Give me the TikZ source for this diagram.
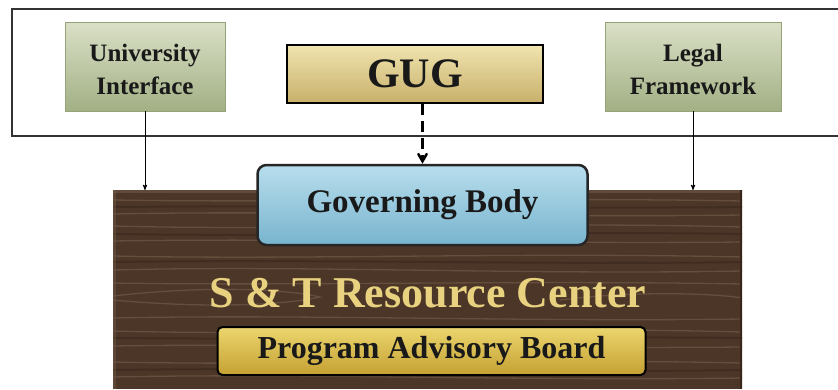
\documentclass[tikz,border=0pt]{standalone}
\usepackage{fontspec}
\setmainfont{Liberation Serif}
\usetikzlibrary{arrows}
\definecolor{SageLight}{RGB}{218,224,199}
\definecolor{SageDark}{RGB}{162,176,132}
\definecolor{SageEdge}{RGB}{150,162,122}
\definecolor{TanLight}{RGB}{240,228,175}
\definecolor{TanDark}{RGB}{200,176,106}
\definecolor{SkyLight}{RGB}{184,222,237}
\definecolor{SkyDark}{RGB}{120,180,206}
\definecolor{GoldLight}{RGB}{236,214,110}
\definecolor{GoldDark}{RGB}{196,160,50}
\definecolor{Wood}{RGB}{76,54,40}
\definecolor{WoodLight}{RGB}{118,94,74}
\definecolor{WoodDark}{RGB}{56,38,27}
\definecolor{Letter}{RGB}{232,210,128}
\tikzset{
  boxnode/.style = {align=center, inner sep=0pt, text centered, text=black!90},
  GreenNode/.style = {boxnode, rectangle, top color=SageLight, bottom color=SageDark, draw=SageEdge, line width=0.6pt,
                      font=\bfseries\fontsize{25}{29}\selectfont, minimum height=89pt},
  GugNode/.style = {boxnode, rectangle, top color=TanLight, bottom color=TanDark, draw=black, line width=2.5pt,
                    font=\bfseries\fontsize{42}{46}\selectfont, minimum width=256pt, minimum height=58pt},
  BlueNode/.style = {boxnode, rectangle, rounded corners=9pt, top color=SkyLight, bottom color=SkyDark, draw=black!85, line width=2.5pt,
                     font=\bfseries\fontsize{33}{36}\selectfont, minimum width=330pt, minimum height=80pt},
  BoardNode/.style = {boxnode, rectangle, rounded corners=5pt, top color=GoldLight, bottom color=GoldDark, draw=black, line width=2pt,
                      font=\bfseries\fontsize{32}{36}\selectfont, minimum width=428pt, minimum height=48pt},
  grain/.style = {WoodLight, line width=1.3pt, opacity=0.6}
}

\begin{document}
\begin{tikzpicture}[x=1pt,y=-1pt,->,>=stealth']
            \useasboundingbox (0,0) rectangle (838,389);
            % frame round the outside bodies
            \draw[-, line width=1.5pt, black!80] (838,9) -- (12,9) -- (12,136) -- (838,136);
            % wooden sign
            \fill[Wood] (113,190) rectangle (742,389);
            \begin{scope}
                \clip (113,190) rectangle (742,389);
                \foreach \y/\a in {200/3, 214/-4, 226/5, 241/-3, 256/4, 270/-5, 283/3, 318/-4, 331/5, 346/-3, 362/4, 377/-4}
                    \draw[-, grain] (113,\y) .. controls (300,\y+\a) and (520,\y-\a) .. (742,\y+1);
                \foreach \y/\a in {207/-2, 234/3, 262/-3, 338/2, 370/-3}
                    \draw[-, WoodDark, line width=2pt, opacity=0.6] (113,\y) .. controls (330,\y+\a) and (560,\y-\a) .. (742,\y);
                \draw[-, grain] (113,296) .. controls (200,286) and (280,288) .. (320,297) .. controls (280,306) and (200,308) .. (113,300);
                \draw[-, grain] (560,300) .. controls (640,290) and (720,294) .. (742,298);
                \draw[-, WoodLight, line width=3pt, opacity=0.5] (113,191) -- (742,191);
                \draw[-, WoodLight, line width=3pt, opacity=0.4] (114,190) -- (114,389);
                \draw[-, WoodDark, line width=3pt] (741,190) -- (741,389);
            \end{scope}
            \node[GreenNode, minimum width=160pt] (uni) at (145,66.5) {\shortstack{\rule{0pt}{23pt}University\\[7pt]Interface}};
            \node[GreenNode, minimum width=176pt] (legal) at (693,66.5) {\shortstack{\rule{0pt}{23pt}Legal\\[7pt]Framework}};
            \node[GugNode] (gug) at (415,74) {GUG};
            \node[BlueNode] (gov) at (422.5,205) {Governing Body};
            \node[boxnode, Letter, font=\bfseries\fontsize{44}{48}\selectfont, anchor=base] (stc) at (428,307) {S \& T Resource Center};
            \node[BoardNode] (pab) at (431.5,351) {Program Advisory Board};
            \draw[line width=0.9pt] (uni.south) -- (uni.south |- 0,190);
            \draw[line width=0.9pt] (legal.south) -- (legal.south |- 0,190);
            \draw[-angle 60, line width=2.5pt, dash pattern=on 11pt off 6pt] (gov.north |- gug.south) -- (gov.north);
        \end{tikzpicture}
\end{document}
